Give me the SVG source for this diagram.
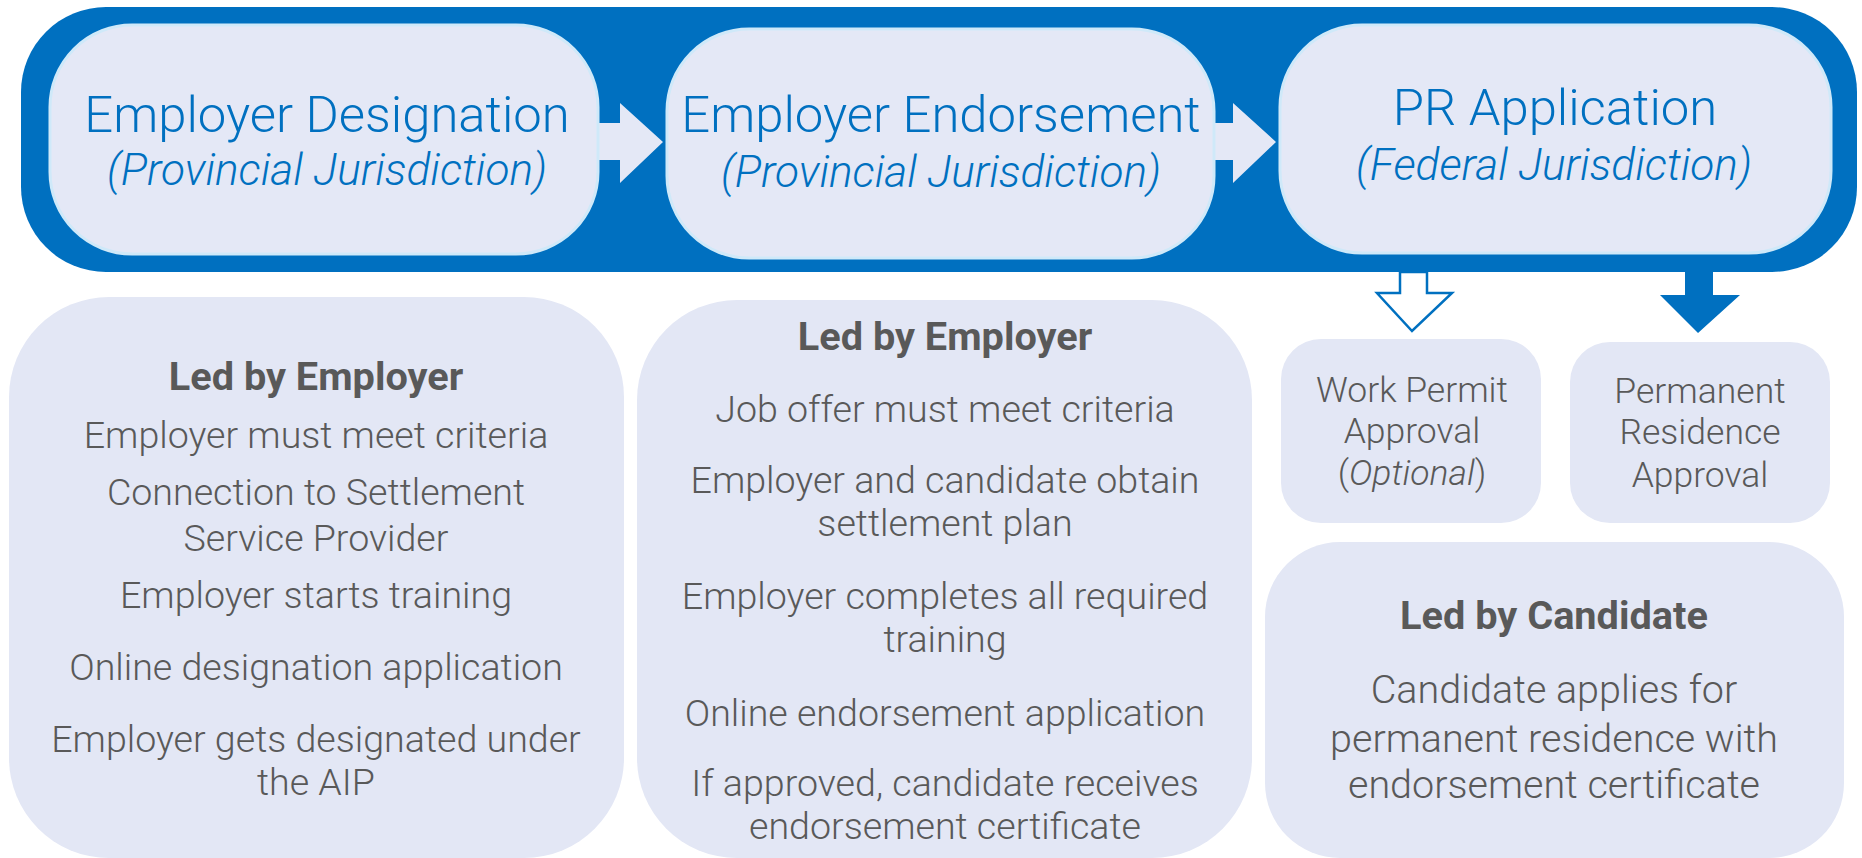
<svg xmlns="http://www.w3.org/2000/svg" width="1862" height="858" viewBox="0 0 1862 858">
<style>
.pill{fill:#E4E8F6;stroke:#CFE9F9;stroke-width:3}
.panel{fill:#E3E7F5}
.ht{font-family:Roboto,"Open Sans",sans-serif;font-weight:300;fill:#0070C0;text-anchor:middle;font-size:50.8px}
.hi{font-family:Roboto,"Open Sans",sans-serif;font-weight:300;font-style:italic;fill:#0070C0;text-anchor:middle;font-size:44.2px}
.bt{font-family:Roboto,"Open Sans",sans-serif;font-weight:300;fill:#595959;text-anchor:middle;font-size:37.6px}
.ct{font-family:Roboto,"Open Sans",sans-serif;font-weight:300;fill:#595959;text-anchor:middle;font-size:39.5px}
.st{font-family:Roboto,"Open Sans",sans-serif;font-weight:300;fill:#595959;text-anchor:middle;font-size:35.5px}
.tt{font-family:Roboto,"Open Sans",sans-serif;font-weight:700;fill:#595959;text-anchor:middle;font-size:39.7px}
</style>
<rect width="1862" height="858" fill="#FFFFFF"/>
<g id="band"><rect x="21" y="7" width="1836" height="265" rx="85" fill="#0070C0"/></g>
<g id="connectors">
<path d="M590,123 L620,123 L620,103 L663,142 L620,183 L620,160 L590,160 Z" fill="#E4E8F6"/>
<path d="M1205,123 L1233,123 L1233,103 L1276,142 L1233,183 L1233,160 L1205,160 Z" fill="#E4E8F6"/>
<path d="M1400,272 L1427,272 L1427,293 L1452,293 L1412,331 L1377,293 L1400,293 Z" fill="#FFFFFF" stroke="#0070C0" stroke-width="2.5" stroke-linejoin="miter"/>
<path d="M1685,268 L1713,268 L1713,295 L1740,295 L1698,333 L1660,295 L1685,295 Z" fill="#0070C0"/>
</g>
<g id="designation">
<rect class="pill" x="50" y="25" width="548" height="229" rx="82"/>
<text class="ht" x="327" y="132">Employer Designation</text>
<text class="hi" x="327" y="185">(Provincial Jurisdiction)</text>
</g>
<g id="endorsement">
<rect class="pill" x="667" y="29" width="547" height="229" rx="82"/>
<text class="ht" x="941" y="132">Employer Endorsement</text>
<text class="hi" x="941" y="187">(Provincial Jurisdiction)</text>
</g>
<g id="pr-application">
<rect class="pill" x="1280" y="25" width="551" height="228" rx="82"/>
<text class="ht" x="1555" y="125">PR Application</text>
<text class="hi" x="1554" y="180">(Federal Jurisdiction)</text>
</g>
<g id="designation-steps">
<rect class="panel" x="9" y="297" width="615" height="561" rx="100"/>
<text class="tt" x="316" y="390">Led by Employer</text>
<text class="bt" x="316" y="448">Employer must meet criteria</text>
<text class="bt" x="316" y="505">Connection to Settlement</text>
<text class="bt" x="316" y="551">Service Provider</text>
<text class="bt" x="316" y="608">Employer starts training</text>
<text class="bt" x="316" y="680">Online designation application</text>
<text class="bt" x="316" y="752">Employer gets designated under</text>
<text class="bt" x="316" y="795">the AIP</text>
</g>
<g id="endorsement-steps">
<rect class="panel" x="637" y="300" width="615" height="558" rx="100"/>
<text class="tt" x="945" y="350">Led by Employer</text>
<text class="bt" x="945" y="422">Job offer must meet criteria</text>
<text class="bt" x="945" y="493">Employer and candidate obtain</text>
<text class="bt" x="945" y="536">settlement plan</text>
<text class="bt" x="945" y="609">Employer completes all required</text>
<text class="bt" x="945" y="652">training</text>
<text class="bt" x="945" y="726">Online endorsement application</text>
<text class="bt" x="945" y="796">If approved, candidate receives</text>
<text class="bt" x="945" y="839">endorsement certificate</text>
</g>
<g id="work-permit">
<rect class="panel" x="1281" y="339" width="260" height="184" rx="40"/>
<text class="st" x="1412" y="402">Work Permit</text>
<text class="st" x="1412" y="443">Approval</text>
<text class="st" x="1412" y="485">(<tspan font-style="italic">Optional</tspan>)</text>
</g>
<g id="pr-approval">
<rect class="panel" x="1570" y="342" width="260" height="181" rx="40"/>
<text class="st" x="1700" y="403">Permanent</text>
<text class="st" x="1700" y="444">Residence</text>
<text class="st" x="1700" y="487">Approval</text>
</g>
<g id="candidate-steps">
<rect class="panel" x="1265" y="542" width="579" height="316" rx="75"/>
<text class="tt" x="1554" y="629">Led by Candidate</text>
<text class="ct" x="1554" y="703">Candidate applies for</text>
<text class="ct" x="1554" y="752">permanent residence with</text>
<text class="ct" x="1554" y="798">endorsement certificate</text>
</g>
</svg>
